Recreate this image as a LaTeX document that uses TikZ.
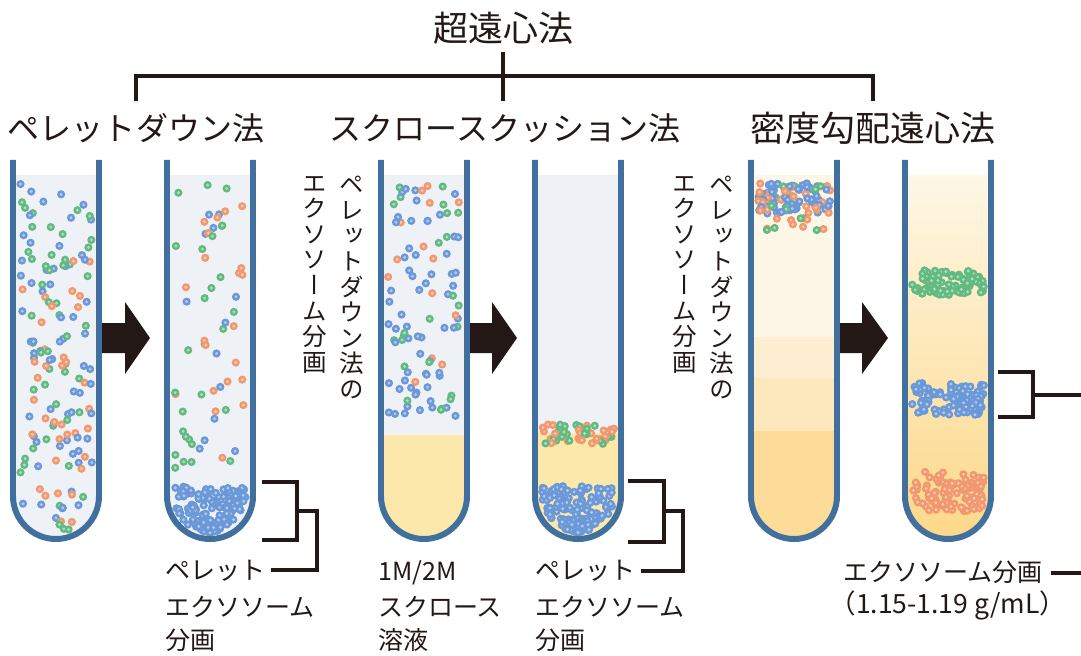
\documentclass[tikz,border=0pt]{standalone}
\usepackage{fontspec}
\setmainfont{Noto Sans CJK JP}
\newfontfamily\jpv{Noto Sans CJK JP}[RawFeature=+vert]

\definecolor{ink}{HTML}{231815}
\definecolor{wallc}{HTML}{41709E}
\definecolor{clear}{HTML}{EEF2F7}
\definecolor{sucr}{HTML}{FDE8AC}
\definecolor{gA}{HTML}{FEF6E6}
\definecolor{gB}{HTML}{FEEFD2}
\definecolor{gC}{HTML}{FDE8BE}
\definecolor{gD}{HTML}{FDDC9A}
\definecolor{gtop}{HTML}{FEF7E6}
\definecolor{gbot}{HTML}{FCD888}
\definecolor{dot1}{HTML}{6A98D8}
\definecolor{dot2}{HTML}{F2986E}
\definecolor{dot3}{HTML}{62BA80}
\colorlet{dot1hl}{dot1!50!white}
\colorlet{dot2hl}{dot2!50!white}
\colorlet{dot3hl}{dot3!50!white}

% tube outline (open top) and its inner liquid region, #1 = centre x
\newcommand\tubewall[1]{(#1-43,160) -- (#1-43,496) arc[start angle=180,end angle=0,radius=43] -- (#1+43,160)}
\newcommand\tubefill[2]{(#1-43,#2) -- (#1-43,496) arc[start angle=180,end angle=0,radius=43] -- (#1+43,#2) -- cycle}

% one vesicle
\newcommand\ball[3]{\fill[dot#3] (#1,#2) circle[radius=4.1]; \fill[dot#3hl] (#1,#2) circle[radius=1.6];}

% random vesicles: #1 cx, #2 y from, #3 y to, #4 count, #5 p(blue), #6 p(blue+orange), #7 half width
\newcommand\scatter[7]{%
  \foreach \i in {1,...,#4}{%
    \pgfmathsetmacro\yy{#2+rnd*(#3-#2)}%
    \pgfmathsetmacro\dd{max(0,\yy-496)}%
    \pgfmathsetmacro\hw{sqrt(max(0,#7*#7-\dd*\dd))}%
    \pgfmathsetmacro\xx{#1+rand*\hw}%
    \pgfmathsetmacro\cc{rnd}%
    \pgfmathtruncatemacro\k{\cc<#5 ? 1 : (\cc<#6 ? 2 : 3)}%
    \ball{\xx}{\yy}{\k}%
  }}

\tikzset{
  wall/.style={draw=wallc,line width=6},
  tree/.style={draw=ink,line width=3.2},
  brk/.style={draw=ink,line width=3.8},
  blockarrow/.style={fill=ink},
  title/.style={font=\fontsize{35bp}{40bp}\selectfont,text=ink,inner sep=0},
  head/.style={font=\fontsize{32bp}{38bp}\selectfont,text=ink,inner sep=0},
  lab/.style={font=\fontsize{25bp}{30bp}\selectfont,text=ink,inner sep=0,anchor=west},
  vtext/.style={font=\jpv\fontsize{24.5bp}{25.6bp}\selectfont,text=ink,inner sep=0,anchor=north,align=center},
}

\begin{document}
\begin{tikzpicture}[x=1bp,y=-1bp]
\useasboundingbox (0,0) rectangle (1081,656);
\fill[white] (0,0) rectangle (1081,656);

% ---------- headings and tree ----------
\node[title] (title) at (503,28) {超遠心法};
\node[head] (h1) at (136,128) {ペレットダウン法};
\node[head] (h2) at (505,128) {スクロースクッション法};
\node[head,font=\fontsize{35bp}{40bp}\selectfont] (h3) at (873,128) {密度勾配遠心法};
\draw[tree] (title.south |- 0,52) -- (title.south |- 0,101);
\draw[tree] (h1.north |- 0,101) -- (h1.north |- 0,76) -- (h3.north |- 0,76) -- (h3.north |- 0,101);

% ---------- block arrows ----------
\fill[blockarrow] (98,323) -- (125,323) -- (125,302) -- (150,338) -- (125,374) -- (125,353) -- (98,353) -- cycle;
\fill[blockarrow] (466,323) -- (492,323) -- (492,302) -- (517,338) -- (492,374) -- (492,353) -- (466,353) -- cycle;
\fill[blockarrow] (836,323) -- (862,323) -- (862,302) -- (888,338) -- (862,374) -- (862,353) -- (836,353) -- cycle;

% ---------- liquids ----------
\fill[clear] \tubefill{56}{175};
\fill[clear] \tubefill{210}{175};
\fill[clear] \tubefill{424}{175};
\fill[sucr] \tubefill{424}{435};
\fill[clear] \tubefill{578}{175};
\fill[sucr] \tubefill{578}{433};
\begin{scope}
  \clip \tubefill{794}{175};
  \fill[gA] (740,175) rectangle (850,337);
  \fill[gB] (740,337) rectangle (850,378);
  \fill[gC] (740,378) rectangle (850,431);
  \fill[gD] (740,431) rectangle (850,545);
\end{scope}
\shade[top color=gtop,bottom color=gbot] \tubefill{948}{175};

% ---------- vesicles ----------
\pgfmathsetseed{4711}
\scatter{56}{183}{530}{150}{0.5}{0.78}{36}
\scatter{210}{183}{478}{62}{0.22}{0.62}{36}
\scatter{210}{486}{534}{150}{1.01}{1.01}{36}
\scatter{424}{185}{425}{100}{0.65}{0.82}{36}
\scatter{578}{424}{444}{55}{0}{0.55}{36}
\scatter{578}{486}{533}{145}{1.01}{1.01}{36}
\scatter{794}{183}{214}{115}{0.62}{0.8}{36}
\scatter{794}{214}{234}{12}{0}{0.5}{36}
\scatter{948}{270}{295}{85}{0}{0}{36}
\scatter{948}{383}{416}{105}{1.01}{1.01}{36}
\scatter{948}{477}{511}{95}{0}{1.01}{36}
\scatter{948}{470}{477}{5}{0}{1.01}{30}

% ---------- tube walls ----------
\foreach \cx in {56,210,424,578,794,948} \draw[wall] \tubewall{\cx};

% ---------- vertical captions ----------
\node[vtext] (v1) at (352,176) {ペ\\レ\\ッ\\ト\\ダ\\ウ\\ン\\法\\の};
\node[vtext] (v2) at (315,176) {エ\\ク\\ソ\\ソ\\ー\\ム\\分\\画};
\node[vtext] (v3) at (722,176) {ペ\\レ\\ッ\\ト\\ダ\\ウ\\ン\\法\\の};
\node[vtext] (v4) at (685,176) {エ\\ク\\ソ\\ソ\\ー\\ム\\分\\画};

% ---------- bottom labels ----------
\node[lab] (l2a) at (165,571) {ペレット};
\node[lab] (l2b) at (165,607) {エクソソーム};
\node[lab] (l2c) at (165,640) {分画};
\node[lab] (l3a) at (378,573) {1M/2M};
\node[lab] (l3b) at (378,607) {スクロース};
\node[lab] (l3c) at (378,640) {溶液};
\node[lab] (l4a) at (535,571) {ペレット};
\node[lab] (l4b) at (535,607) {エクソソーム};
\node[lab] (l4c) at (535,640) {分画};
\node[lab] (l6a) at (843,572) {エクソソーム分画};
\node[lab,anchor=center,font=\fontsize{26.5bp}{30bp}\selectfont] (l6b) at (948,605) {（1.15-1.19 g/mL）};

% ---------- brackets ----------
\coordinate (p2t) at (262,482); \coordinate (p2b) at (262,540);
\coordinate (p4t) at (628,481); \coordinate (p4b) at (628,542);
\coordinate (b6t) at (998,372); \coordinate (b6b) at (998,417);
\coordinate (out1) at (1081,395); \coordinate (out2) at (1081,573);

\draw[brk] (p2t) -- (297,482) -- (297,540) -- (p2b);
\draw[brk] (297,511) -- (317,511) -- (317,570) -- ([xshift=6]l2a.east |- 0,570);
\draw[brk] (p4t) -- (664,481) -- (664,542) -- (p4b);
\draw[brk] (664,511) -- (683,511) -- (683,571) -- ([xshift=6]l4a.east |- 0,571);
\draw[brk] (b6t) -- (1033,372) -- (1033,417) -- (b6b);
\draw[brk] (1033,395) -- (out1);
\draw[brk] ([xshift=8]l6a.east |- 0,573) -- (out2);
\end{tikzpicture}
\end{document}
